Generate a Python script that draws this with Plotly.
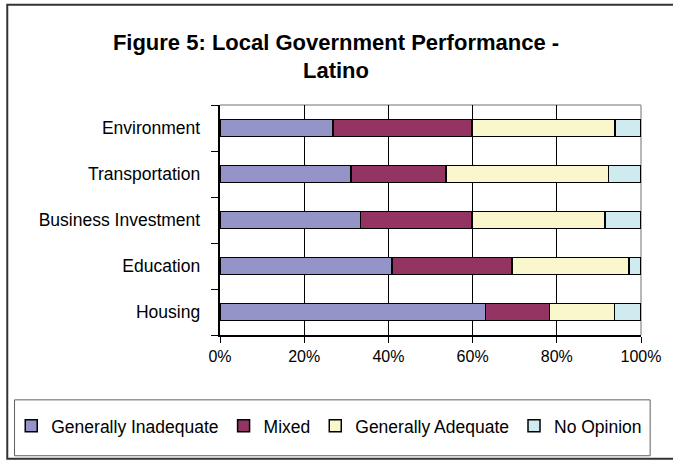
import plotly.graph_objects as go

# Survey results (percent of respondents), listed top to bottom
categories = ["Environment", "Transportation", "Business Investment", "Education", "Housing"]
generally_inadequate = [26.8, 31.1, 33.4, 40.8, 63.1]
mixed = [33.0, 22.6, 26.4, 28.5, 15.2]
generally_adequate = [34.0, 38.6, 31.7, 27.8, 15.4]
no_opinion = [6.2, 7.7, 8.5, 2.9, 6.3]

series_names = ["Generally Inadequate", "Mixed", "Generally Adequate", "No Opinion"]
series_values = [generally_inadequate, mixed, generally_adequate, no_opinion]
series_colors = ["#9494C9", "#933462", "#FAF7CD", "#CFEBEF"]

tick_values = [0, 20, 40, 60, 80, 100]
tick_labels = ["0%", "20%", "40%", "60%", "80%", "100%"]

title_text = "<b>Figure 5: Local Government Performance -<br>Latino</b>"

W, H = 673, 460
PL, PR, PT, PB = 220, 643.5, 104.5, 335  # plot area in pixels
FONT = "Arial, Liberation Sans, sans-serif"


def px_x(x):
    return (x - PL) / (PR - PL)


def px_y(y):
    return (PB - y) / (PB - PT)


fig = go.Figure()
for name, vals, col in zip(series_names, series_values, series_colors):
    fig.add_trace(go.Bar(
        y=categories, x=vals, name=name, orientation="h",
        marker=dict(color=col, line=dict(color="#000000", width=1.5)),
    ))

shapes = [
    # outer chart frame
    dict(type="rect", xref="paper", yref="paper",
         x0=px_x(6), x1=px_x(685), y0=px_y(459), y1=px_y(4),
         line=dict(color="#333333", width=2), layer="below"),
    # legend box
    dict(type="rect", xref="paper", yref="paper",
         x0=px_x(13.3), x1=px_x(652.7), y0=px_y(456), y1=px_y(400),
         line=dict(color="#606060", width=1), layer="below"),
    # top and right edges of the plot area
    dict(type="line", xref="paper", yref="paper", x0=0, x1=1, y0=1, y1=1,
         line=dict(color="#A0A0A0", width=1.5), layer="between"),
    dict(type="line", xref="paper", yref="paper", x0=1, x1=1, y0=0, y1=1,
         line=dict(color="#A0A0A0", width=1.5), layer="between"),
]

fig.update_layout(
    width=W, height=H,
    margin=dict(l=PL, r=W - PR, t=PT, b=H - PB, pad=0),
    barmode="stack", bargap=0.62,
    paper_bgcolor="#FFFFFF", plot_bgcolor="rgba(0,0,0,0)",
    font=dict(family=FONT, size=17, color="#000000"),
    title=dict(text=title_text, xref="container", yref="container",
               x=336 / W, y=1 - 49.5 / H, xanchor="center", yanchor="middle",
               font=dict(family=FONT, size=22, color="#000000")),
    showlegend=True,
    legend=dict(orientation="h", x=px_x(10), y=px_y(426), xanchor="left", yanchor="middle",
                font=dict(family=FONT, size=17.5, color="#000000"),
                bgcolor="rgba(0,0,0,0)", borderwidth=0, traceorder="normal"),
    shapes=shapes,
)

fig.update_xaxes(
    type="linear", range=[0, 100], tickvals=tick_values, ticktext=tick_labels,
    showgrid=True, gridcolor="#000000", gridwidth=1.2,
    zeroline=False, showline=True, linecolor="#000000", linewidth=1.5,
    ticks="outside", ticklen=6, tickcolor="#000000", tickwidth=1,
    tickfont=dict(family=FONT, size=16, color="#000000"),
)
# labels set a little further from the axis with trailing non-breaking spaces
fig.update_yaxes(
    autorange="reversed", categoryorder="array", categoryarray=categories,
    tickvals=categories, ticktext=[c + "\u00a0\u00a0\u00a0" for c in categories],
    showgrid=False, showline=True, linecolor="#000000", linewidth=1.5,
    ticks="outside", tickson="boundaries", ticklen=7, tickcolor="#000000", tickwidth=1,
    tickfont=dict(family=FONT, size=17.5, color="#000000"),
)

fig.write_html("out.html")
